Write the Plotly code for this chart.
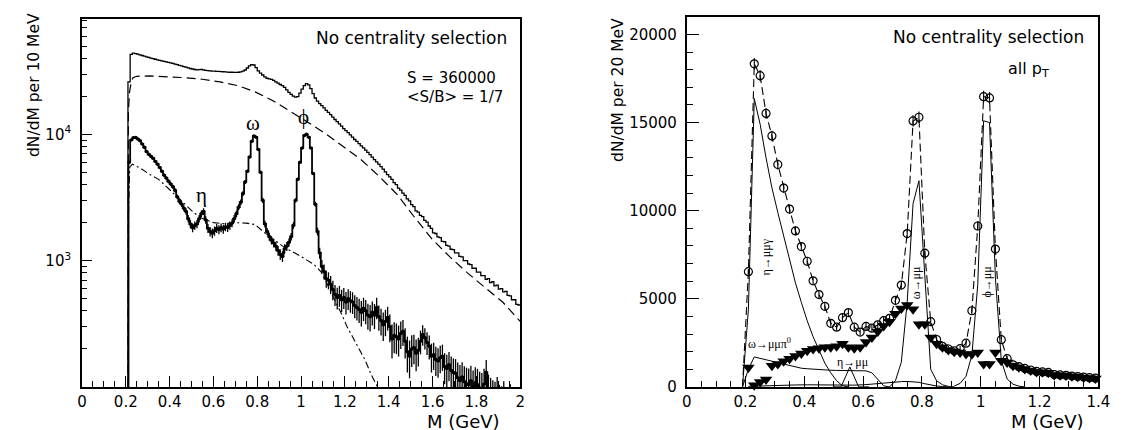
import math
import plotly.graph_objects as go

# ================= LEFT PANEL DATA (log scale, 10 MeV bins) =================
SIG_LO = 0.21      # lower edge of first 10 MeV bin (GeV)
SIG_W = 0.01       # bin width (GeV)
# Signal (background subtracted), bin contents
signal = [
    6000, 9000, 9400, 9450, 9200, 8900, 8400, 7900, 7300, 6950,
    6700, 6450, 6100, 5800, 5450, 5100, 4750, 4500, 4250, 4050,
    3850, 3600, 3200, 2950, 2800, 2600, 2450, 2150, 1950, 1820,
    1900, 1950, 2150, 2350, 2450, 2100, 1800, 1700, 1650, 1720,
    1800, 1760, 1820, 1780, 1850, 1830, 1900, 1980, 2150, 2350,
    2650, 2900, 3400, 4200, 5100, 6600, 8800, 9700, 9500, 7600,
    5000, 3000, 1950, 1700, 1550, 1450, 1380, 1300, 1200, 1120,
    1080, 1240, 1300, 1400, 1550, 1900, 3000, 4400, 6000, 7800,
    9800, 10000, 9500, 7800, 4900, 2800, 1700, 1150, 900, 820,
    720, 700, 650, 590, 540, 510, 530, 490, 510, 470,
    500, 480, 470, 440, 425, 410, 390, 420, 400, 370,
    360, 390, 370, 425, 360, 335, 310, 330, 355, 300,
    240, 255, 250, 240, 265, 275, 230, 190, 175, 200,
    205, 185, 195, 230, 260, 245, 225, 210, 175, 180,
    165, 160, 170, 175, 145, 140, 150, 135, 130, 128,
    118, 112, 120, 110, 106, 104, 112, 100, 108, 104,
    98, 95, 105, 130, 92, 85, 80, 78, 88, 72,
    70, 80, 66, 64, 75, 60, 58, 62, 55,
]
signal_err = [
    150, 160, 160, 160, 160, 160, 155, 155, 150, 150,
    150, 150, 150, 148, 148, 146, 146, 145, 145, 145,
    145, 145, 145, 145, 145, 145, 145, 145, 145, 145,
    145, 145, 145, 145, 145, 145, 145, 145, 145, 145,
    145, 145, 145, 145, 145, 145, 145, 145, 145, 145,
    148, 150, 150, 150, 150, 150, 150, 150, 150, 150,
    150, 140, 120, 115, 112, 110, 110, 110, 108, 108,
    106, 106, 106, 106, 108, 110, 120, 130, 140, 150,
    150, 150, 150, 150, 140, 130, 120, 115, 110, 110,
    110, 108, 106, 104, 102, 100, 100, 98, 96, 95,
    94, 93, 92, 91, 90, 90, 89, 88, 87, 86,
    85, 84, 83, 82, 81, 80, 79, 78, 76, 74,
    72, 70, 68, 66, 65, 64, 62, 60, 58, 56,
    54, 52, 50, 49, 48, 47, 46, 45, 45, 44,
    43, 42, 42, 41, 40, 40, 39, 39, 38, 38,
    38, 37, 37, 36, 36, 36, 35, 35, 35, 35,
    34, 34, 34, 33, 33, 33, 33, 32, 32, 32,
    31, 31, 31, 30, 30, 30, 30, 29, 29,
]
# Total (signal + background), bin contents, same binning
total = [
    26000, 43000, 44000, 43600, 43100, 42600, 42100, 41600, 41100, 40600,
    40100, 39700, 39300, 38900, 38500, 38200, 37800, 37500, 37100, 36800,
    36400, 36000, 35600, 35200, 34800, 34400, 34000, 33600, 33200, 32900,
    32600, 32400, 32500, 32600, 32400, 32100, 31900, 31800, 31700, 31600,
    31500, 31500, 31400, 31300, 31200, 31100, 31000, 31000, 30900, 30900,
    31000, 31200, 31600, 32300, 33500, 34800, 35600, 35400, 33800, 31800,
    30500, 29500, 28500, 27800, 27500, 27200, 26700, 26000, 25400, 24800,
    24300, 23500, 22500, 21500, 20700, 20100, 19700, 19900, 21200, 22800,
    24300, 25200, 24600, 23000, 21000, 19400, 18300, 17500, 16900, 16200,
    15500, 14900, 14300, 13700, 13100, 12600, 12100, 11600, 11100, 10700,
    10300, 9900, 9500, 9100, 8800, 8450, 8100, 7800, 7500, 7200,
    6900, 6600, 6300, 6050, 5800, 5550, 5300, 5050, 4800, 4600,
    4400, 4150, 4000, 3750, 3620, 3420, 3280, 3080, 2970, 2780,
    2680, 2480, 2420, 2280, 2230, 2080, 2020, 1880, 1800, 1660,
    1640, 1540, 1520, 1420, 1410, 1320, 1300, 1230, 1220, 1150,
    1150, 1080, 1070, 1000, 1000, 940, 930, 870, 870, 810,
    810, 760, 760, 710, 720, 670, 680, 630, 640, 595,
    600, 565, 570, 530, 525, 490, 490, 450, 445,
]
# Combinatorial background (dashed curve)
bkg_m = [0.209, 0.212, 0.217, 0.225, 0.233, 0.25, 0.31, 0.40, 0.47, 0.55, 0.63,
         0.715, 0.795, 0.876, 0.956, 1.036, 1.116, 1.197, 1.277, 1.357, 1.438,
         1.518, 1.598, 1.679, 1.759, 1.839, 1.92, 2.0]
bkg_v = [10, 15000, 21500, 26000, 28100, 28800, 29000, 28700, 28100, 27300, 26000,
         24200, 21500, 18300, 15100, 12300, 10000, 7900, 6240, 4640, 3350,
         2200, 1480, 1070, 800, 612, 470, 330]
# Continuum / Dalitz sum (dash-dotted curve)
dd_m = [0.211, 0.213, 0.218, 0.23, 0.27, 0.31, 0.35, 0.39, 0.43, 0.47, 0.51, 0.55,
        0.60, 0.65, 0.70, 0.75, 0.79, 0.83, 0.88, 0.93, 0.98, 1.02, 1.06, 1.09,
        1.12, 1.15, 1.18, 1.21, 1.245, 1.27, 1.293, 1.32, 1.341, 1.36]
dd_v = [10, 2500, 5500, 5800, 5350, 4800, 4400, 3800, 3300, 2800, 2400, 2150,
        2000, 1960, 2000, 1980, 1930, 1680, 1450, 1250, 1130, 1020, 930, 820,
        650, 500, 394, 300, 231, 190, 162, 125, 107, 92]

# ================= RIGHT PANEL DATA (linear scale, 20 MeV bins) =================
R_LO = 0.20
R_W = 0.02
# Sum of all sources (open circles, dashed)
sum_v = [
    6540, 18330, 17660, 15520, 14240, 12620, 11280, 10090, 8850, 7960,
    7130, 6020, 5240, 4570, 3610, 3390, 3930, 4220, 3390, 3110,
    3430, 3330, 3520, 3760, 3890, 4910, 5780, 8700, 15090, 15300,
    7590, 3700, 2690, 2300, 2150, 2050, 2170, 2480, 4320, 9130,
    16470, 16400, 7820, 2680, 1600, 1250, 1150, 1050, 960, 880,
    850, 820, 700, 680, 655, 615, 585, 555, 525, 495,
]
sum_err = [
    150, 330, 320, 300, 290, 280, 270, 260, 250, 240,
    240, 230, 220, 210, 200, 200, 210, 210, 200, 200,
    200, 200, 200, 210, 210, 220, 230, 260, 320, 320,
    250, 200, 180, 170, 170, 160, 160, 170, 200, 260,
    330, 330, 250, 170, 140, 130, 120, 120, 110, 100,
    100, 100, 90, 90, 90, 90, 85, 85, 80, 80,
]
# Continuum (filled triangles)
tri_v = [
    1100, 100, 280, 420, 1200, 1300, 1450, 1600, 1750, 1900,
    2050, 2150, 2200, 2250, 2250, 2300, 2450, 2250, 2200, 2250,
    2550, 2800, 3150, 3450, 3700, 4150, 4450, 4650, 4400, 3550,
    3550, 2800, 2450, 2250, 2100, 2000, 1950, 1870, 1850, 1950,
    1300, 1300, 1950, 1480, 1380, 1200, 1110, 1020, 930, 850,
    830, 800, 680, 660, 640, 600, 570, 540, 510, 480,
]
eta_dal_m = [0.19, 0.21, 0.23, 0.25, 0.27, 0.29, 0.31, 0.33, 0.35, 0.37, 0.39,
             0.41, 0.43, 0.45, 0.47, 0.49, 0.51, 0.53, 0.55]
eta_dal_v = [0, 4400, 16360, 14900, 13000, 11300, 9900, 8600, 7300, 5900, 4800,
             3750, 2850, 2050, 1350, 800, 350, 60, 0]
om_dal_m = [0.19, 0.21, 0.23, 0.25, 0.27, 0.29, 0.31, 0.33, 0.35, 0.37, 0.39, 0.41,
            0.43, 0.45, 0.47, 0.49, 0.51, 0.53, 0.55, 0.57, 0.59, 0.61, 0.63, 0.65,
            0.67, 0.69]
om_dal_v = [0, 1000, 1700, 1620, 1520, 1430, 1340, 1260, 1180, 1110, 1060, 1030,
            1000, 980, 960, 945, 935, 930, 930, 925, 920, 910, 800, 400, 60, 0]
eta_mm_m = [0.50, 0.525, 0.555, 0.585, 0.62]
eta_mm_v = [0, 0, 1130, 0, 0]
rho_m = [0.21, 0.25, 0.29, 0.33, 0.37, 0.41, 0.45, 0.49, 0.53, 0.57, 0.61, 0.65,
         0.69, 0.73, 0.75, 0.77, 0.79, 0.81, 0.83, 0.85, 0.87, 0.89]
rho_v = [30, 60, 80, 100, 110, 120, 115, 105, 95, 100, 130, 200, 260, 300, 310,
         300, 260, 180, 100, 50, 20, 0]
om_m = [0.69, 0.71, 0.73, 0.75, 0.77, 0.79, 0.81, 0.83, 0.85, 0.87, 0.89, 0.91]
om_v = [0, 350, 1400, 4800, 10400, 11700, 6300, 1000, 350, 120, 30, 0]
phi_m = [0.91, 0.93, 0.95, 0.97, 0.99, 1.01, 1.03, 1.05, 1.07, 1.09, 1.11, 1.13, 1.15]
phi_v = [50, 200, 600, 1800, 5800, 15100, 15000, 6200, 1500, 450, 150, 40, 0]

# ================= FIGURE =================
W, H = 1123, 430
FONT = "DejaVu Sans"
SERIF = "Liberation Serif"

def px(x):
    return x / W

def py(y):
    return 1 - y / H

sig_c = [SIG_LO + SIG_W * (i + 0.5) for i in range(len(signal))]
tot_edges = [SIG_LO + SIG_W * i for i in range(len(total) + 1)]
r_c = [R_LO + R_W * (i + 0.5) for i in range(len(sum_v))]

fig = go.Figure()

# ---- left panel ----
fig.add_trace(go.Scatter(
    x=[tot_edges[0]] + tot_edges, y=[10] + total + [total[-1]],
    mode="lines", line=dict(color="black", width=1.3, shape="hv"),
    xaxis="x", yaxis="y", showlegend=False))
fig.add_trace(go.Scatter(
    x=bkg_m, y=bkg_v, mode="lines",
    line=dict(color="black", width=1.2, dash="9px,5px"),
    xaxis="x", yaxis="y", showlegend=False))
fig.add_trace(go.Scatter(
    x=dd_m, y=dd_v, mode="lines",
    line=dict(color="black", width=1.1, dash="7px,3px,2px,3px"),
    xaxis="x", yaxis="y", showlegend=False))
fig.add_trace(go.Scatter(
    x=[SIG_LO] + sig_c, y=[10] + signal, mode="lines",
    line=dict(color="black", width=1.8, shape="hvh"),
    xaxis="x", yaxis="y", showlegend=False))
fig.add_trace(go.Scatter(
    x=sig_c, y=signal, mode="markers",
    marker=dict(color="black", size=3.5),
    error_y=dict(type="data", array=signal_err, visible=True,
                 color="black", thickness=1.3, width=0),
    xaxis="x", yaxis="y", showlegend=False))

# ---- right panel ----
fig.add_trace(go.Scatter(
    x=[R_LO - 0.01] + r_c, y=[0] + sum_v, mode="lines",
    line=dict(color="black", width=1.1, dash="8px,4px"),
    xaxis="x2", yaxis="y2", showlegend=False))
fig.add_trace(go.Scatter(
    x=r_c, y=sum_v, mode="markers",
    marker=dict(symbol="circle-open", color="black", size=8, line=dict(width=1.2)),
    error_y=dict(type="data", array=sum_err, visible=True,
                 color="black", thickness=1.1, width=0),
    xaxis="x2", yaxis="y2", showlegend=False))
for mm, vv in [(eta_dal_m, eta_dal_v), (om_dal_m, om_dal_v), (eta_mm_m, eta_mm_v),
               (rho_m, rho_v), (om_m, om_v), (phi_m, phi_v)]:
    fig.add_trace(go.Scatter(
        x=mm, y=vv, mode="lines", line=dict(color="black", width=1.0),
        xaxis="x2", yaxis="y2", showlegend=False))
fig.add_trace(go.Scatter(
    x=r_c, y=tri_v, mode="markers",
    marker=dict(symbol="triangle-down", color="black", size=11),
    cliponaxis=False,
    xaxis="x2", yaxis="y2", showlegend=False))

axis_common = dict(
    showline=True, mirror=True, linecolor="black", linewidth=1.6,
    showgrid=False, zeroline=False, ticks="inside", tickcolor="black",
    tickfont=dict(family=FONT, size=15, color="black"),
)

minor_log = [m * 10 ** d for d in (2, 3, 4) for m in range(2, 10) if m * 10 ** d < 85000]

fig.update_layout(
    width=W, height=H, margin=dict(l=0, r=0, t=0, b=0),
    paper_bgcolor="white", plot_bgcolor="white",
    xaxis=dict(domain=[px(70), px(515)], range=[0, 2], anchor="y",
               tick0=0, dtick=0.2, ticklen=11, tickwidth=1,
               minor=dict(ticks="inside", dtick=0.05, ticklen=6, tickcolor="black"),
               ticklabelstandoff=0, **axis_common),
    yaxis=dict(domain=[py(387), py(11)], type="log", range=[2, 4.915], anchor="x",
               tickmode="array", tickvals=[1e3, 1e4],
               ticktext=["10<sup>3</sup>", "10<sup>4</sup>"], ticklen=10, tickwidth=1,
               minor=dict(ticks="inside", tickmode="array", tickvals=minor_log,
                          ticklen=5, tickcolor="black"),
               ticklabelstandoff=6, **axis_common),
    xaxis2=dict(domain=[px(684), px(1102)], range=[0, 1.4], anchor="y2",
                tick0=0, dtick=0.2, ticklen=11, tickwidth=1,
                minor=dict(ticks="inside", dtick=0.05, ticklen=6, tickcolor="black"),
                ticklabelstandoff=0, **axis_common),
    yaxis2=dict(domain=[py(387), py(9)], range=[0, 21000], anchor="x2",
                tick0=0, dtick=5000, tickformat="d", ticklen=13, tickwidth=1,
                minor=dict(ticks="inside", dtick=1000, ticklen=7, tickcolor="black"),
                ticklabelstandoff=5, **axis_common),
)

def note(text, x, y, size=15, family=FONT, xanchor="center", yanchor="middle", angle=0):
    fig.add_annotation(text=text, x=px(x), y=py(y), xref="paper", yref="paper",
                       showarrow=False, xanchor=xanchor, yanchor=yanchor,
                       textangle=angle, font=dict(family=family, size=size, color="black"))

def label(text, m, v, xa, ya, size, angle=0, log=False):
    fig.add_annotation(text=text, x=m, y=(math.log10(v) if log else v), xref=xa, yref=ya,
                       showarrow=False, xanchor="center", yanchor="middle",
                       textangle=angle, font=dict(family=SERIF, size=size, color="black"))

# left texts
note("No centrality selection", 504, 31, size=17, xanchor="right")
note("S = 360000", 398, 72, size=15, xanchor="left")
note("&lt;S/B&gt; = 1/7", 398, 91, size=15, xanchor="left")
label("ω", 0.779, 12400, "x", "y", 21, log=True)
label("ϕ", 1.009, 13800, "x", "y", 21, log=True)
label("η", 0.546, 3300, "x", "y", 21, log=True)
note("dN/dM per 10 MeV", 22, 79, size=15.5, angle=-90)
note("M (GeV)", 497, 410, size=18, xanchor="right", yanchor="top")

# right texts
note("No centrality selection", 1089, 30, size=17, xanchor="right")
note("all p<sub>T</sub>", 1008, 63, size=16, xanchor="left")
note("dN/dM per 20 MeV", 615, 84, size=15.5, angle=-90)
note("M (GeV)", 1090, 410, size=18, xanchor="right", yanchor="top")
label("η→μμγ", 0.273, 7400, "x2", "y2", 12, angle=-90)
label("ω→μμπ<sup>0</sup>", 0.281, 2440, "x2", "y2", 12)
label("η→μμ", 0.5635, 1390, "x2", "y2", 12)
label("ω→μμ", 0.783, 5930, "x2", "y2", 12, angle=-90)
label("ϕ→μμ", 1.022, 5930, "x2", "y2", 12, angle=-90)

fig.write_html("out.html")
